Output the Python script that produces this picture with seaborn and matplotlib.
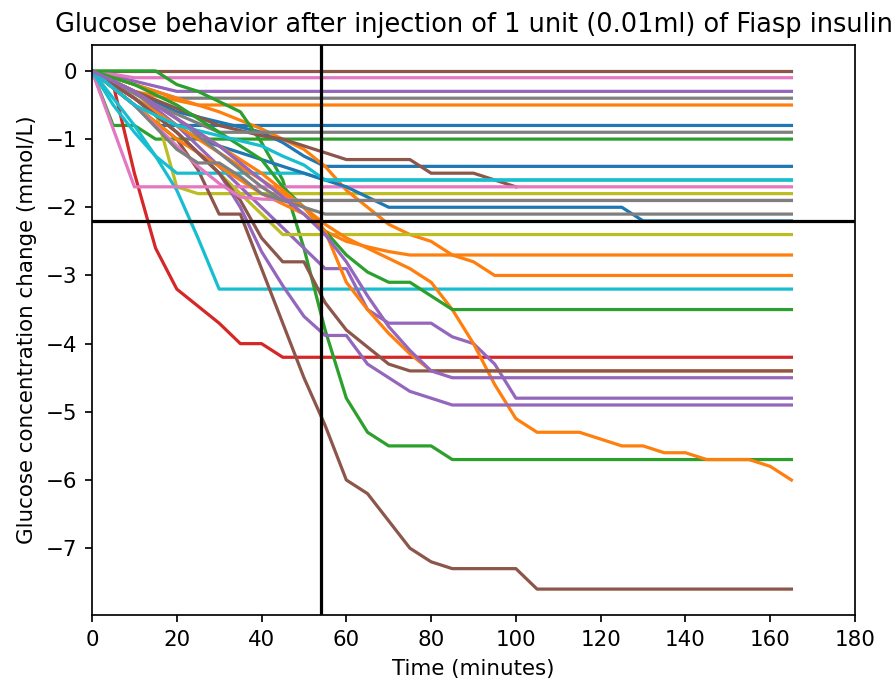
import matplotlib
matplotlib.use("Agg")
import matplotlib.pyplot as plt
import seaborn as sns
import pandas as pd

# ---- data (minutes after injection, glucose change in mmol/L) ----
series_ids = [
    "blue_08", "orange_05", "green_10", "red_42", "purple_03", "brown_0",
    "pink_01", "gray_04", "olive_18", "cyan_32", "blue_14", "orange_30",
    "green_57", "purple_48", "brown_76", "brown_17", "pink_17", "gray_09",
    "olive_24", "cyan_16a", "blue_22", "orange_60", "orange_27", "green_35",
    "purple_49", "orange_44", "brown_44", "pink_19", "gray_19", "gray_21",
    "cyan_16b", "purple_45",
]
series_colors = [
    "tab:blue", "tab:orange", "tab:green", "tab:red", "tab:purple", "tab:brown",
    "tab:pink", "tab:gray", "tab:olive", "tab:cyan", "tab:blue", "tab:orange",
    "tab:green", "tab:purple", "tab:brown", "tab:brown", "tab:pink", "tab:gray",
    "tab:olive", "tab:cyan", "tab:blue", "tab:orange", "tab:orange", "tab:green",
    "tab:purple", "tab:orange", "tab:brown", "tab:pink", "tab:gray", "tab:gray",
    "tab:cyan", "tab:purple",
]
series_times = [
    [0, 10, 15, 165],
    [0, 10, 25, 165],
    [0, 5, 10, 15, 165],
    [0, 5, 10, 15, 20, 25, 30, 35, 40, 45, 165],
    [0, 10, 20, 165],
    [0, 165],
    [0, 10, 165],
    [0, 10, 20, 165],
    [0, 10, 15, 20, 25, 165],
    [0, 5, 10, 15, 20, 25, 30, 165],
    [0, 10, 20, 30, 40, 45, 50, 55, 165],
    [0, 10, 20, 30, 40, 45, 50, 55, 60, 65, 70, 75, 80, 85, 90, 95, 165],
    [0, 15, 20, 25, 30, 35, 40, 45, 50, 55, 60, 65, 70, 80, 85, 165],
    [0, 10, 20, 30, 40, 50, 55, 60, 65, 70, 80, 85, 90, 95, 100, 165],
    [0, 10, 20, 25, 30, 35, 40, 45, 50, 55, 60, 65, 70, 75, 80, 85, 100, 105, 165],
    [0, 10, 20, 30, 40, 45, 50, 55, 60, 75, 80, 90, 100],
    [0, 10, 165],
    [0, 15, 30, 165],
    [0, 10, 20, 30, 35, 40, 45, 165],
    [0, 5, 10, 15, 20, 50, 55, 165],
    [0, 10, 20, 25, 35, 45, 50, 60, 70, 125, 130, 165],
    [0, 10, 20, 30, 40, 50, 55, 60, 65, 70, 75, 80, 85, 90, 95, 100, 105, 115,
     125, 130, 135, 140, 145, 155, 160, 165],
    [0, 10, 20, 30, 40, 50, 55, 60, 65, 70, 75, 165],
    [0, 10, 20, 30, 40, 45, 50, 55, 60, 65, 70, 75, 80, 85, 165],
    [0, 10, 20, 30, 35, 40, 45, 50, 55, 60, 65, 70, 75, 80, 85, 165],
    [0, 10, 20, 30, 40, 50, 55, 60, 65, 70, 75, 80, 165],
    [0, 10, 20, 30, 35, 40, 45, 50, 55, 60, 65, 70, 75, 165],
    [0, 10, 20, 25, 30, 35, 40, 50, 165],
    [0, 10, 20, 25, 30, 35, 40, 45, 165],
    [0, 10, 20, 30, 40, 45, 50, 55, 165],
    [0, 10, 20, 30, 40, 45, 50, 55, 165],
    [0, 10, 20, 30, 40, 50, 55, 60, 65, 70, 75, 80, 85, 165],
]
series_values = [
    [0, -0.5, -0.8, -0.8],
    [0, -0.3, -0.5, -0.5],
    [0, -0.8, -0.8, -1.0, -1.0],
    [0, -0.2, -1.5, -2.6, -3.2, -3.45, -3.7, -4.0, -4.0, -4.2, -4.2],
    [0, -0.15, -0.3, -0.3],
    [0, 0],
    [0, -0.1, -0.1],
    [0, -0.2, -0.4, -0.4],
    [0, -0.3, -0.6, -1.7, -1.8, -1.8],
    [0, -0.4, -0.8, -1.25, -1.75, -2.45, -3.2, -3.2],
    [0, -0.3, -0.6, -0.75, -0.9, -1.05, -1.25, -1.4, -1.4],
    [0, -0.2, -0.4, -0.6, -0.85, -1.0, -1.15, -1.4, -1.75, -2.0, -2.25, -2.4,
     -2.5, -2.7, -2.8, -3.0, -3.0],
    [0, 0, -0.2, -0.3, -0.45, -0.6, -1.05, -1.6, -2.6, -3.8, -4.8, -5.3, -5.5,
     -5.5, -5.7, -5.7],
    [0, -0.3, -0.8, -1.4, -2.0, -2.6, -2.9, -2.9, -3.5, -3.7, -3.7, -3.9, -4.0,
     -4.3, -4.8, -4.8],
    [0, -0.5, -1.0, -1.45, -2.1, -2.1, -2.9, -3.7, -4.5, -5.2, -6.0, -6.2, -6.6,
     -7.0, -7.2, -7.3, -7.3, -7.6, -7.6],
    [0, -0.3, -0.55, -0.8, -0.95, -1.0, -1.1, -1.2, -1.3, -1.3, -1.5, -1.5, -1.7],
    [0, -1.7, -1.7],
    [0, -0.5, -0.9, -0.9],
    [0, -0.4, -0.9, -1.5, -1.8, -2.1, -2.4, -2.4],
    [0, -0.5, -0.9, -1.25, -1.5, -1.5, -1.6, -1.6],
    [0, -0.4, -0.8, -1.0, -1.2, -1.4, -1.5, -1.7, -2.0, -2.0, -2.2, -2.2],
    [0, -0.4, -0.8, -1.2, -1.6, -2.0, -2.25, -2.45, -2.6, -2.75, -2.9, -3.1,
     -3.5, -4.0, -4.6, -5.1, -5.3, -5.3, -5.5, -5.5, -5.6, -5.6, -5.7, -5.7,
     -5.8, -6.0],
    [0, -0.5, -1.0, -1.4, -1.8, -2.1, -2.35, -2.5, -2.58, -2.65, -2.7, -2.7],
    [0, -0.2, -0.5, -0.9, -1.3, -1.7, -2.0, -2.35, -2.7, -2.95, -3.1, -3.1,
     -3.3, -3.5, -3.5],
    [0, -0.4, -0.9, -1.5, -2.0, -2.65, -3.15, -3.6, -3.88, -3.88, -4.3, -4.5,
     -4.7, -4.8, -4.9, -4.9],
    [0, -0.3, -0.7, -1.1, -1.5, -2.0, -2.35, -3.1, -3.5, -3.85, -4.15, -4.4, -4.4],
    [0, -0.4, -0.9, -1.5, -1.9, -2.45, -2.8, -2.8, -3.4, -3.8, -4.05, -4.3,
     -4.4, -4.4],
    [0, -0.5, -1.1, -1.4, -1.65, -1.85, -1.88, -1.9, -1.9],
    [0, -0.5, -1.15, -1.35, -1.35, -1.55, -1.8, -1.9, -1.9],
    [0, -0.3, -0.7, -1.2, -1.7, -1.9, -2.0, -2.1, -2.1],
    [0, -0.5, -0.8, -0.95, -1.1, -1.25, -1.38, -1.6, -1.6],
    [0, -0.3, -0.7, -1.1, -1.6, -2.1, -2.4, -2.8, -3.3, -3.75, -4.1, -4.4,
     -4.5, -4.5],
]
marker_time = 54
marker_level = -2.2
x_ticks = [0, 20, 40, 60, 80, 100, 120, 140, 160, 180]
y_ticks = [0, -1, -2, -3, -4, -5, -6, -7]

title_text = "Glucose behavior after injection of 1 unit (0.01ml) of Fiasp insulin"
x_label = "Time (minutes)"
y_label = "Glucose concentration change (mmol/L)"

# ---- figure ----
W, H, DPI = 895, 680, 154
fig = plt.figure(figsize=(W / DPI, H / DPI), dpi=DPI)
ax = fig.add_axes([92 / W, (H - 615) / H, 763 / W, 570 / H])

for sid, col, ts, vs in zip(series_ids, series_colors, series_times, series_values):
    df = pd.DataFrame({"t": ts, "v": vs})
    sns.lineplot(data=df, x="t", y="v", color=col, linewidth=1.5,
                 estimator=None, ax=ax, legend=False)

ax.axvline(marker_time, color="black", linewidth=1.5)
ax.axhline(marker_level, color="black", linewidth=1.5)

ax.set_xlim(0, 180)
ax.set_ylim(-7.98, 0.38)
ax.set_xticks(x_ticks)
ax.set_yticks(y_ticks)
ax.set_title(title_text, fontsize=12)
ax.set_xlabel(x_label, fontsize=10)
ax.set_ylabel(y_label, fontsize=10)

fig.savefig("out.png", dpi=DPI)
